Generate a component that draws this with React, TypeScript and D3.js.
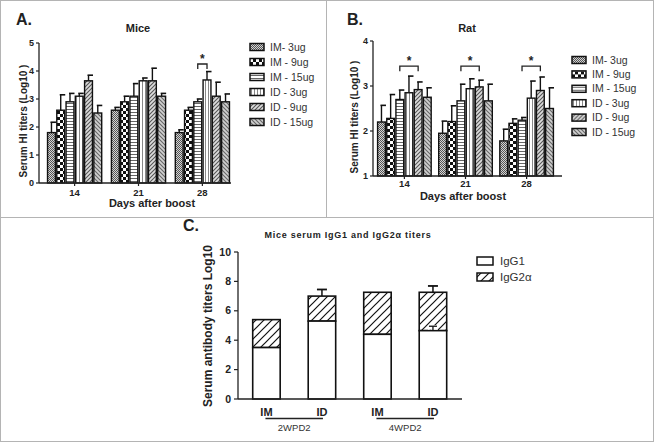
import React from 'react';
import * as d3 from 'd3';

const days = ['14', '21', '28'];
const doses = ['IM- 3ug', 'IM - 9ug', 'IM - 15ug', 'ID - 3ug', 'ID - 9ug', 'ID - 15ug'];

const miceMean14 = [1.8, 2.6, 2.9, 3.1, 3.65, 2.5];
const miceErr14 = [0.37, 0.55, 0.3, 0.1, 0.2, 0.27];
const miceMean21 = [2.6, 2.9, 3.1, 3.65, 3.65, 3.1];
const miceErr21 = [0.1, 0.2, 0.45, 0.1, 0.45, 0.1];
const miceMean28 = [1.8, 2.6, 2.9, 3.68, 3.1, 2.9];
const miceErr28 = [0.1, 0.1, 0.1, 0.3, 0.5, 0.28];
const miceTicks = [0, 1, 2, 3, 4, 5];
// significance: [day, fromDose, toDose, level]
const miceSig = [['28', 2, 3, 4.25]];

const ratMean14 = [2.2, 2.28, 2.7, 2.85, 2.92, 2.75];
const ratErr14 = [0.37, 0.53, 0.21, 0.37, 0.17, 0.21];
const ratMean21 = [1.95, 2.21, 2.67, 2.94, 2.98, 2.67];
const ratErr21 = [0.27, 0.35, 0.37, 0.22, 0.15, 0.37];
const ratMean28 = [1.78, 2.17, 2.24, 2.73, 2.9, 2.5];
const ratErr28 = [0.26, 0.1, 0.06, 0.38, 0.3, 0.46];
const ratTicks = [1, 2, 3, 4];
const ratSig = [['14', 2, 4, 3.44], ['21', 2, 4, 3.44], ['28', 2, 4, 3.44]];

const cGroups = ['IM', 'ID', 'IM', 'ID'];
const cKeys = ['IM-2', 'ID-2', 'IM-4', 'ID-4'];
const cPeriods = ['2WPD2', '4WPD2'];
const igg1 = [3.5, 5.3, 4.4, 4.65];
const igg1Err = [0, 0, 0, 0.3];
const igg2a = [1.9, 1.7, 2.86, 2.61];
const totalErr = [0, 0.45, 0, 0.43];
const cTicks = [0, 2, 4, 6, 8, 10];
const cSeries = ['IgG1', 'IgG2α'];

const FONT = '"Liberation Sans", Arial, Helvetica, sans-serif';
const TXT = '#222';

function Patterns() {
  return (
    <defs>
      <pattern id="p0" width="2" height="2" patternUnits="userSpaceOnUse">
        <rect width="2" height="2" fill="#d4d4d4" />
        <rect width="1" height="1" fill="#555" />
        <rect x="1" y="1" width="1" height="1" fill="#555" />
      </pattern>
      <pattern id="p1" width="6" height="6" patternUnits="userSpaceOnUse">
        <rect width="6" height="6" fill="#fff" />
        <rect width="3" height="3" fill="#111" />
        <rect x="3" y="3" width="3" height="3" fill="#111" />
      </pattern>
      <pattern id="p2" width="3" height="3" patternUnits="userSpaceOnUse">
        <rect width="3" height="3" fill="#fff" />
        <rect y="1" width="3" height="1" fill="#666" />
      </pattern>
      <pattern id="p3" width="3" height="3" patternUnits="userSpaceOnUse">
        <rect width="3" height="3" fill="#fff" />
        <rect x="1" width="1" height="3" fill="#888" />
      </pattern>
      <pattern id="p4" width="4" height="4" patternUnits="userSpaceOnUse">
        <rect width="4" height="4" fill="#dcdcdc" />
        <path d="M0,4 L4,0 M-1,1 L1,-1 M3,5 L5,3" stroke="#555" strokeWidth="1.1" />
      </pattern>
      <pattern id="p5" width="4" height="4" patternUnits="userSpaceOnUse">
        <rect width="4" height="4" fill="#d0d0d0" />
        <path d="M0,0 L4,4 M-1,3 L1,5 M3,-1 L5,1" stroke="#666" strokeWidth="1.1" />
      </pattern>
      <pattern id="hatch" width="8" height="8" patternUnits="userSpaceOnUse">
        <rect width="8" height="8" fill="#fff" />
        <path d="M-2,2 L2,-2 M0,8 L8,0 M6,10 L10,6" stroke="#111" strokeWidth="1.2" />
      </pattern>
    </defs>
  );
}

type HIProps = {
  letter: string;
  letterX: number;
  title: string;
  titleX: number;
  means: number[][];
  errs: number[][];
  ticks: number[];
  yDomain: [number, number];
  yRange: [number, number];
  xRange: [number, number];
  axisX: [number, number];
  padInner: number;
  padOuter: number;
  sig: (string | number)[][];
  ylabelX: number;
  ylabelY: number;
  xlabelX: number;
  xlabelY: number;
  tickLabelY: number;
  legendX: number;
  legendY: number;
  legendStep: number;
};

function HIPanel(p: HIProps) {
  const y = d3.scaleLinear().domain(p.yDomain).range(p.yRange);
  const x = d3.scaleBand().domain(days).range(p.xRange).paddingInner(p.padInner).paddingOuter(p.padOuter);
  const xi = d3.scaleBand().domain(doses).range([0, x.bandwidth()]);
  const base = y(p.yDomain[0]);
  return (
    <g fontFamily={FONT}>
      <text x={p.letterX} y={25} fontSize={16} fontWeight="bold" fill={TXT}>{p.letter}</text>
      <text x={p.titleX} y={32} fontSize={11} fontWeight="bold" fill={TXT} textAnchor="middle">{p.title}</text>
      {days.map((d, di) => (
        <g key={d}>
          {doses.map((s, si) => {
            const bx = (x(d) as number) + (xi(s) as number);
            const bw = xi.bandwidth();
            const v = p.means[di][si];
            const e = p.errs[di][si];
            const cx = bx + bw / 2;
            return (
              <g key={s}>
                <line x1={cx} x2={cx} y1={y(v)} y2={y(v + e)} stroke="#111" strokeWidth={1.4} />
                <line x1={cx - 1} x2={cx + 4.5} y1={y(v + e)} y2={y(v + e)} stroke="#111" strokeWidth={1.6} />
                <rect x={bx + 0.7} y={y(v)} width={bw - 1.4} height={base - y(v)} fill={`url(#p${si})`} stroke="#111" strokeWidth={1.4} />
              </g>
            );
          })}
        </g>
      ))}
      {p.sig.map((sg, k) => {
        const d = sg[0] as string;
        const a = (x(d) as number) + (xi(doses[sg[1] as number]) as number) + xi.bandwidth() / 2;
        const b = (x(d) as number) + (xi(doses[sg[2] as number]) as number) + xi.bandwidth() / 2;
        const yy = y(sg[3] as number);
        return (
          <g key={k}>
            <path d={`M${a},${yy + 5}V${yy}H${b}V${yy + 5}`} fill="none" stroke="#222" strokeWidth={1.3} />
            <text x={(a + b) / 2} y={yy - 1} fontSize={12} fontWeight="bold" textAnchor="middle" fill={TXT}>*</text>
          </g>
        );
      })}
      <line x1={p.axisX[0]} x2={p.axisX[1]} y1={base} y2={base} stroke="#222" strokeWidth={1.3} />
      <line x1={p.axisX[0]} x2={p.axisX[0]} y1={base} y2={p.yRange[1]} stroke="#222" strokeWidth={1.3} />
      {p.ticks.map((t) => (
        <g key={t}>
          <line x1={p.axisX[0] - 3} x2={p.axisX[0]} y1={y(t)} y2={y(t)} stroke="#222" strokeWidth={1.2} />
          <text x={p.axisX[0] - 5} y={y(t)} dy="0.35em" fontSize={9} fontWeight="bold" textAnchor="end" fill={TXT}>{t}</text>
        </g>
      ))}
      {days.map((d) => {
        const cx = (x(d) as number) + x.bandwidth() / 2;
        return (
          <g key={d}>
            <line x1={cx} x2={cx} y1={base} y2={base + 3} stroke="#222" strokeWidth={1.2} />
            <text x={cx} y={p.tickLabelY} dy="0.35em" fontSize={9.5} fontWeight="bold" textAnchor="middle" fill={TXT}>{d}</text>
          </g>
        );
      })}
      <text transform={`translate(${p.ylabelX},${p.ylabelY}) rotate(-90)`} dy="0.35em" fontSize={10} fontWeight="bold" textAnchor="middle" fill={TXT}>Serum HI titers  (Log10 )</text>
      <text x={p.xlabelX} y={p.xlabelY} dy="0.35em" fontSize={11} fontWeight="bold" textAnchor="middle" fill={TXT}>Days after boost</text>
      {doses.map((s, si) => (
        <g key={s} transform={`translate(${p.legendX},${p.legendY + si * p.legendStep})`}>
          <rect x={0} y={-3.5} width={14} height={7} fill={`url(#p${si})`} stroke="#111" strokeWidth={1.5} />
          <text x={20} y={0} dy="0.35em" fontSize={10.5} fill="#333">{s}</text>
        </g>
      ))}
    </g>
  );
}

function PanelC() {
  const y = d3.scaleLinear().domain([0, 10]).range([399, 252]);
  const x = d3.scaleBand().domain(cKeys).range([238, 461.4]).paddingInner(0.505).paddingOuter(0.265);
  const base = y(0);
  const bw = x.bandwidth();
  return (
    <g fontFamily={FONT}>
      <text x={183} y={231} fontSize={16} fontWeight="bold" fill={TXT}>C.</text>
      <text x={348} y={238} fontSize={9} fontWeight="bold" textAnchor="middle" letterSpacing={0.75} fill={TXT}>Mice serum IgG1 and IgG2α  titers</text>
      {cKeys.map((k, i) => {
        const bx = x(k) as number;
        const cx = bx + bw / 2;
        const top1 = igg1[i];
        const tot = igg1[i] + igg2a[i];
        return (
          <g key={k}>
            {totalErr[i] > 0 && (
              <g>
                <line x1={cx} x2={cx} y1={y(tot)} y2={y(tot + totalErr[i])} stroke="#111" strokeWidth={1.5} />
                <line x1={cx - 5} x2={cx + 5} y1={y(tot + totalErr[i])} y2={y(tot + totalErr[i])} stroke="#111" strokeWidth={1.8} />
              </g>
            )}
            <rect x={bx} y={y(tot)} width={bw} height={y(top1) - y(tot)} fill="url(#hatch)" stroke="#111" strokeWidth={1.6} />
            <rect x={bx} y={y(top1)} width={bw} height={base - y(top1)} fill="#fff" stroke="#111" strokeWidth={1.6} />
            {igg1Err[i] > 0 && (
              <g>
                <rect x={cx - 5} y={y(top1 + igg1Err[i]) - 1} width={10} height={y(top1) - y(top1 + igg1Err[i])} fill="#fff" />
                <line x1={cx} x2={cx} y1={y(top1)} y2={y(top1 + igg1Err[i])} stroke="#111" strokeWidth={1.3} />
                <line x1={cx - 4} x2={cx + 4} y1={y(top1 + igg1Err[i])} y2={y(top1 + igg1Err[i])} stroke="#111" strokeWidth={1.3} />
              </g>
            )}
            <text x={cx} y={412} dy="0.35em" fontSize={11} fontWeight="bold" textAnchor="middle" fill={TXT}>{cGroups[i]}</text>
          </g>
        );
      })}
      {cPeriods.map((per, j) => {
        const a = (x(cKeys[j * 2]) as number) + bw / 2 - 1;
        const b = (x(cKeys[j * 2 + 1]) as number) + bw / 2 + 1;
        return (
          <g key={per}>
            <line x1={a} x2={b} y1={418.5} y2={418.5} stroke="#222" strokeWidth={1.4} />
            <text x={(a + b) / 2} y={428} dy="0.35em" fontSize={9.5} textAnchor="middle" fill="#333">{per}</text>
          </g>
        );
      })}
      <line x1={238} x2={462} y1={base} y2={base} stroke="#222" strokeWidth={1.3} />
      <line x1={238} x2={238} y1={base} y2={y(10)} stroke="#222" strokeWidth={1.3} />
      {cTicks.map((t) => (
        <g key={t}>
          <line x1={234} x2={238} y1={y(t)} y2={y(t)} stroke="#222" strokeWidth={1.2} />
          <text x={231} y={y(t)} dy="0.35em" fontSize={10.5} fontWeight="bold" textAnchor="end" fill={TXT}>{t}</text>
        </g>
      ))}
      <text transform="translate(208,326) rotate(-90)" dy="0.35em" fontSize={12} fontWeight="bold" textAnchor="middle" fill={TXT}>Serum antibody  titers Log10</text>
      {cSeries.map((s, i) => (
        <g key={s} transform={`translate(477,${261 + i * 16})`}>
          <rect x={0} y={-4} width={16} height={8} fill={i === 0 ? '#fff' : 'url(#hatch)'} stroke="#111" strokeWidth={1.5} />
          <text x={23} y={0} dy="0.35em" fontSize={11.5} fill="#333">{s}</text>
        </g>
      ))}
    </g>
  );
}

export default function App() {
  return (
    <svg width={654} height={442} style={{ position: 'absolute', left: 0, top: 0, background: '#fff' }}>
      <Patterns />
      <rect x={0} y={0} width={654} height={442} fill="#fff" />
      <HIPanel
        letter="A." letterX={16} title="Mice" titleX={138}
        means={[miceMean14, miceMean21, miceMean28]} errs={[miceErr14, miceErr21, miceErr28]}
        ticks={miceTicks} yDomain={[0, 5]} yRange={[183, 43]}
        xRange={[43, 234]} axisX={[39, 231]} padInner={0.13} padOuter={0.06}
        sig={miceSig}
        ylabelX={23} ylabelY={121} xlabelX={152} xlabelY={203} tickLabelY={193}
        legendX={250} legendY={47} legendStep={15}
      />
      <HIPanel
        letter="B." letterX={347} title="Rat" titleX={467}
        means={[ratMean14, ratMean21, ratMean28]} errs={[ratErr14, ratErr21, ratErr28]}
        ticks={ratTicks} yDomain={[1, 4]} yRange={[176, 41]}
        xRange={[372, 559]} axisX={[373, 562]} padInner={0.1} padOuter={0.08}
        sig={ratSig}
        ylabelX={354} ylabelY={117} xlabelX={463} xlabelY={196} tickLabelY={184}
        legendX={572} legendY={60} legendStep={14.4}
      />
      <PanelC />
      <rect x={0.5} y={0.5} width={653} height={441} fill="none" stroke="#b4b4b4" strokeWidth={1} />
      <line x1={326.5} x2={326.5} y1={0} y2={217} stroke="#b4b4b4" strokeWidth={1} />
      <line x1={0} x2={654} y1={217.5} y2={217.5} stroke="#b4b4b4" strokeWidth={1} />
    </svg>
  );
}
